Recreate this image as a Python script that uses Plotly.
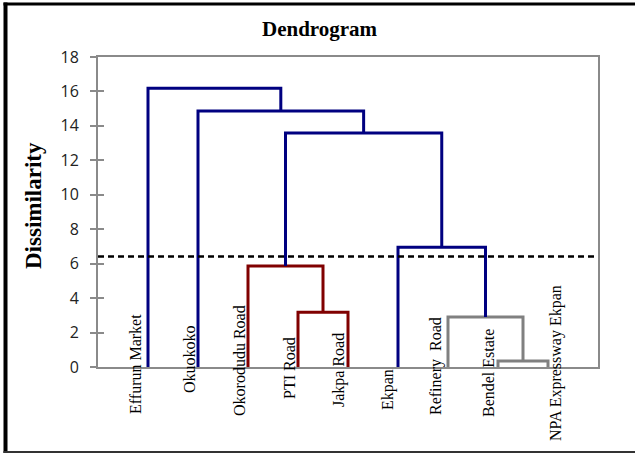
import plotly.graph_objects as go

# ---------------- data ----------------
LEAVES = ["Effurun Market", "Okuokoko", "Okorodudu Road", "PTI Road", "Jakpa Road",
          "Ekpan", "Refinery  Road", "Bendel Estate", "NPA Expressway Ekpan"]
# merges (node ids: leaves 0..8, then merged nodes 9..16 in order)
MERGE_LEFT = [7, 6, 3, 2, 5, 12, 1, 0]
MERGE_RIGHT = [8, 9, 4, 11, 10, 13, 14, 15]
MERGE_HEIGHT = [0.35, 2.90, 3.18, 5.87, 6.96, 13.58, 14.87, 16.19]
CUT_LEVEL = 6.42
Y_TICKS = [0, 2, 4, 6, 8, 10, 12, 14, 16, 18]

# ---------------- style ----------------
ABOVE_COLOR = "#000080"
CLUSTER_COLORS = ["#800000", "#808080"]
AXIS_GRAY = "#8a8a8a"
LABEL_DX_PX = [-13, -9, -9, -9, -9, -10, -12, -10, 8]
LABEL_CY_PX = [364, 359, 361, 368, 370, 390, 366, 373, 363]

W, H = 635, 454
ML, MR, MT, MB = 98, 37, 57, 87
PW, PH = W - ML - MR, H - MT - MB


def px_x(px):
    return (px - ML) / PW


def px_y(py):
    return (H - MB - py) / PH


n = len(LEAVES)
pos = [i + 1 for i in range(n)]
hgt = [0.0] * n
parent = {}
for k, (a, b, h) in enumerate(zip(MERGE_LEFT, MERGE_RIGHT, MERGE_HEIGHT)):
    node = n + k
    pos.append((pos[a] + pos[b]) / 2)
    hgt.append(h)
    parent[a] = node
    parent[b] = node

# cluster roots: merges below cut whose parent is above cut
roots = []
for k, h in enumerate(MERGE_HEIGHT):
    node = n + k
    if h < CUT_LEVEL and (node not in parent or hgt[parent[node]] >= CUT_LEVEL):
        roots.append(node)
roots.sort(key=lambda r: pos[r])
root_color = {r: CLUSTER_COLORS[i % len(CLUSTER_COLORS)] for i, r in enumerate(roots)}


def merge_color(node):
    if hgt[node] >= CUT_LEVEL:
        return ABOVE_COLOR
    cur = node
    while cur not in root_color:
        cur = parent[cur]
    return root_color[cur]


segs = {}
for k, (a, b, h) in enumerate(zip(MERGE_LEFT, MERGE_RIGHT, MERGE_HEIGHT)):
    node = n + k
    c = merge_color(node)
    xs, ys = segs.setdefault(c, ([], []))
    xs += [pos[a], pos[a], pos[b], pos[b], None]
    ys += [hgt[a], h, h, hgt[b], None]

fig = go.Figure()
for c, (xs, ys) in segs.items():
    fig.add_trace(go.Scatter(x=xs, y=ys, mode="lines",
                             line=dict(color=c, width=3), hoverinfo="skip",
                             showlegend=False))

fig.add_trace(go.Scatter(x=[0, n + 1], y=[CUT_LEVEL, CUT_LEVEL], mode="lines",
                         line=dict(color="black", width=2.5, dash="6px,4px"),
                         showlegend=False, hoverinfo="skip"))

annotations = []
for i, name in enumerate(LEAVES):
    annotations.append(dict(
        x=pos[i] + LABEL_DX_PX[i] * (n + 1) / PW, xref="x",
        y=px_y(LABEL_CY_PX[i]), yref="paper",
        text=name, textangle=-90, showarrow=False,
        xanchor="center", yanchor="middle",
        font=dict(family="Liberation Serif", size=16, color="black")))

annotations.append(dict(x=px_x(320), y=px_y(29), xref="paper", yref="paper",
                        text="<b>Dendrogram</b>", showarrow=False,
                        xanchor="center", yanchor="middle",
                        font=dict(family="Liberation Serif", size=21, color="black")))
annotations.append(dict(x=px_x(34), y=px_y(206), xref="paper", yref="paper",
                        text="<b>Dissimilarity</b>", showarrow=False, textangle=-90,
                        xanchor="center", yanchor="middle",
                        font=dict(family="Liberation Serif", size=23, color="black")))

shapes = [
    dict(type="rect", xref="paper", yref="paper", x0=px_x(3.5), x1=px_x(7.5),
         y0=px_y(453), y1=px_y(2.5), fillcolor="black", line=dict(width=0)),
    dict(type="rect", xref="paper", yref="paper", x0=px_x(3.5), x1=px_x(645),
         y0=px_y(5.5), y1=px_y(2.5), fillcolor="black", line=dict(width=0)),
    dict(type="rect", xref="paper", yref="paper", x0=px_x(3.5), x1=px_x(645),
         y0=px_y(453), y1=px_y(451), fillcolor="#333333", line=dict(width=0)),
]

fig.update_layout(
    width=W, height=H,
    margin=dict(l=ML, r=MR, t=MT, b=MB),
    paper_bgcolor="white", plot_bgcolor="white",
    annotations=annotations, shapes=shapes,
    xaxis=dict(range=[0, n + 1], showgrid=False, zeroline=False,
               showticklabels=False, ticks="", showline=True, mirror=True,
               linecolor=AXIS_GRAY, linewidth=2, fixedrange=True),
    yaxis=dict(range=[0, 18], tickvals=Y_TICKS, showgrid=False, zeroline=False,
               ticks="outside", ticklen=6, tickwidth=1.5, tickcolor=AXIS_GRAY,
               ticklabelstandoff=8,
               showline=True, mirror=True, linecolor=AXIS_GRAY, linewidth=2,
               tickfont=dict(family="Open Sans", size=16, color="#222222"),
               fixedrange=True),
    yaxis2=dict(range=[0, 18], tickvals=Y_TICKS, overlaying="y", side="left",
                showgrid=False, zeroline=False, showticklabels=False,
                ticks="inside", ticklen=6, tickwidth=1.5, tickcolor=AXIS_GRAY,
                showline=False, fixedrange=True),
)
fig.add_trace(go.Scatter(x=[None], y=[None], yaxis="y2", showlegend=False,
                         hoverinfo="skip"))

fig.write_html("out.html",
               config={"displayModeBar": False},
               post_script="document.body.style.margin='0px';"
                           "document.body.style.overflow='hidden';")
